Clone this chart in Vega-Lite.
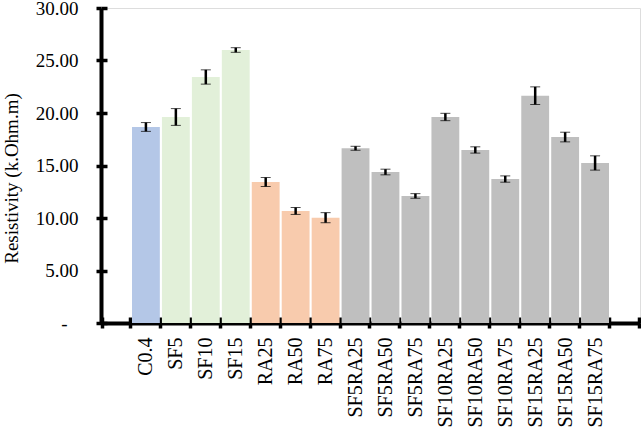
{
  "$schema": "https://vega.github.io/schema/vega-lite/v6.json",
  "width": 539,
  "height": 315,
  "autosize": "none",
  "padding": {"left": 101, "top": 8, "right": 1, "bottom": 106},
  "background": "white",
  "data": {
    "values": [
      {"mix": "C0.4", "group": "control", "resistivity": 18.67, "err": 0.42},
      {"mix": "SF5", "group": "SF", "resistivity": 19.62, "err": 0.8},
      {"mix": "SF10", "group": "SF", "resistivity": 23.43, "err": 0.68},
      {"mix": "SF15", "group": "SF", "resistivity": 26.0, "err": 0.22},
      {"mix": "RA25", "group": "RA", "resistivity": 13.43, "err": 0.43},
      {"mix": "RA50", "group": "RA", "resistivity": 10.67, "err": 0.33},
      {"mix": "RA75", "group": "RA", "resistivity": 10.03, "err": 0.48},
      {"mix": "SF5RA25", "group": "SFRA", "resistivity": 16.64, "err": 0.19},
      {"mix": "SF5RA50", "group": "SFRA", "resistivity": 14.38, "err": 0.27},
      {"mix": "SF5RA75", "group": "SFRA", "resistivity": 12.1, "err": 0.22},
      {"mix": "SF10RA25", "group": "SFRA", "resistivity": 19.62, "err": 0.35},
      {"mix": "SF10RA50", "group": "SFRA", "resistivity": 16.48, "err": 0.3},
      {"mix": "SF10RA75", "group": "SFRA", "resistivity": 13.71, "err": 0.3},
      {"mix": "SF15RA25", "group": "SFRA", "resistivity": 21.65, "err": 0.84},
      {"mix": "SF15RA50", "group": "SFRA", "resistivity": 17.71, "err": 0.46},
      {"mix": "SF15RA75", "group": "SFRA", "resistivity": 15.24, "err": 0.68}
    ]
  },
  "encoding": {
    "x": {
      "field": "mix",
      "type": "nominal",
      "sort": null,
      "scale": {
        "domain": ["_start", "C0.4", "SF5", "SF10", "SF15", "RA25", "RA50", "RA75",
          "SF5RA25", "SF5RA50", "SF5RA75", "SF10RA25", "SF10RA50", "SF10RA75",
          "SF15RA25", "SF15RA50", "SF15RA75", "_end"],
        "paddingInner": 0.07,
        "paddingOuter": 0.035
      },
      "axis": null
    },
    "y": {
      "field": "resistivity",
      "type": "quantitative",
      "scale": {"domain": [0, 30], "nice": false},
      "axis": null
    }
  },
  "layer": [
    {
      "mark": {"type": "bar"},
      "encoding": {
        "x": {
          "field": "mix",
          "type": "nominal",
          "sort": null,
          "axis": {
            "title": null,
            "orient": "bottom",
            "labelAngle": -90,
            "labelFont": "Liberation Serif",
            "labelFontSize": 20,
            "labelColor": "black",
            "labelPadding": 9,
            "labelExpr": "indexof(['_start', '_end'], datum.label) >= 0 ? '' : datum.label",
            "tickBand": "extent",
            "tickSize": 5,
            "tickWidth": 3.5,
            "tickColor": "black",
            "domainColor": "black",
            "domainWidth": 4,
            "grid": false
          }
        },
        "y": {
          "field": "resistivity",
          "type": "quantitative",
          "axis": {
            "title": "Resistivity (k.Ohm.m)",
            "titleFont": "Liberation Serif",
            "titleFontSize": 19,
            "titleFontWeight": "normal",
            "titleColor": "black",
            "titlePadding": 14,
            "titleY": 170,
            "values": [0, 5, 10, 15, 20, 25, 30],
            "labelExpr": "datum.value == 0 ? '-' : format(datum.value, '.2f')",
            "labelFont": "Liberation Serif",
            "labelFontSize": 19,
            "labelColor": "black",
            "labelPadding": {"condition": {"test": "datum.value == 0", "value": 29}, "value": 18},
            "labelOverlap": false,
            "labelFlush": false,
            "tickSize": 5,
            "tickWidth": 3.5,
            "tickColor": "black",
            "domainColor": "black",
            "domainWidth": 4,
            "grid": false
          }
        },
        "color": {
          "field": "group",
          "type": "nominal",
          "scale": {
            "domain": ["control", "SF", "RA", "SFRA"],
            "range": ["#b4c7e7", "#e2f0d9", "#f8cbad", "#bfbfbf"]
          },
          "legend": null
        }
      }
    },
    {
      "mark": {"type": "errorbar", "ticks": {"size": 10, "color": "black", "strokeWidth": 3}, "rule": {"color": "black", "strokeWidth": 2.5}},
      "encoding": {
        "x": {"field": "mix", "type": "nominal", "sort": null},
        "y": {"field": "resistivity", "type": "quantitative"},
        "yError": {"field": "err"}
      }
    },
    {
      "mark": {"type": "rule", "opacity": 0},
      "encoding": {
        "x": {
          "field": "mix",
          "type": "nominal",
          "sort": null,
          "axis": {
            "title": null,
            "orient": "bottom",
            "labels": false,
            "domain": false,
            "tickBand": "extent",
            "tickSize": -6,
            "tickWidth": 3.5,
            "tickColor": "black",
            "grid": false
          }
        },
        "y": {
          "field": "resistivity",
          "type": "quantitative",
          "axis": {
            "title": null,
            "orient": "left",
            "labels": false,
            "domain": false,
            "values": [0, 5, 10, 15, 20, 25, 30],
            "tickSize": -6,
            "tickWidth": 3.5,
            "tickColor": "black",
            "grid": false
          }
        }
      }
    }
  ],
  "resolve": {"axis": {"x": "independent", "y": "independent"}}
}
